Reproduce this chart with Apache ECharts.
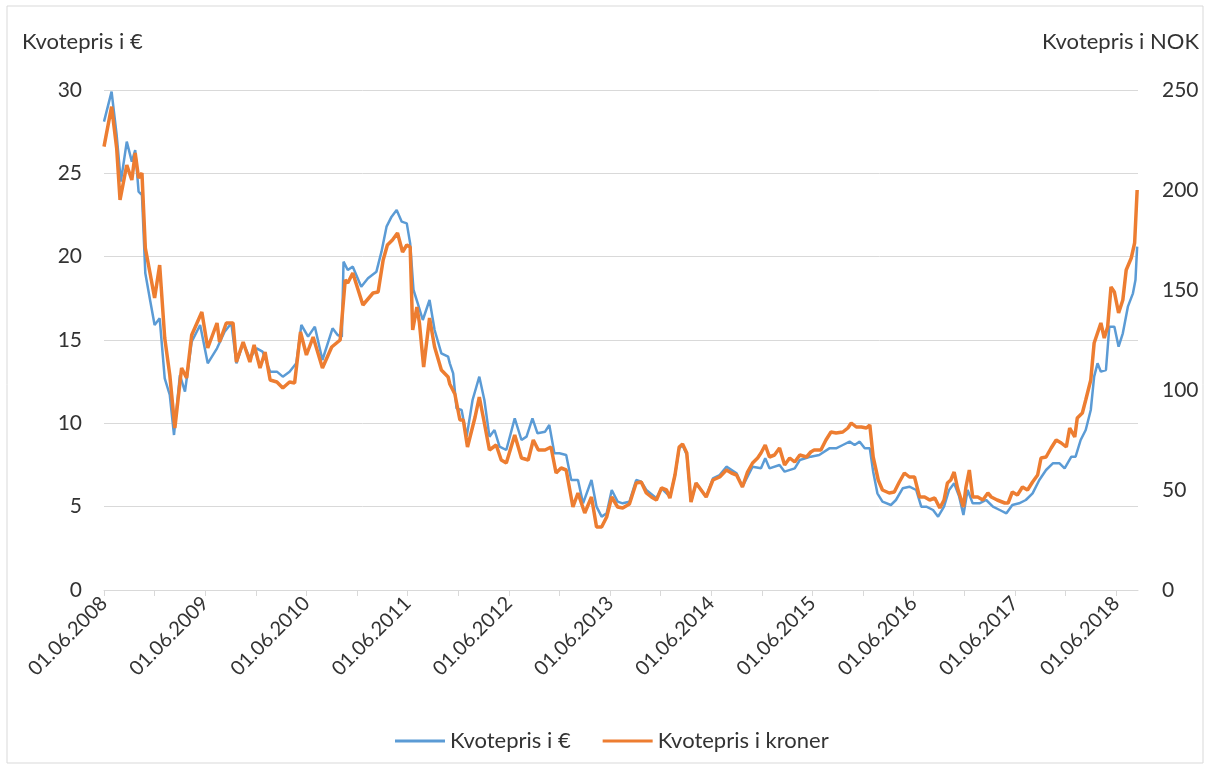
<!DOCTYPE html>
<html>
<head>
<meta charset="utf-8">
<title>Kvotepris</title>
<script src="https://cdn.jsdelivr.net/npm/echarts@6/dist/echarts.min.js"></script>
<style>
	html, body { margin: 0; padding: 0; background: #fff; }
	#chart { width: 1209px; height: 769px; }
</style>
</head>
<body>
<div id="chart"></div>
<script>
// x = months since 01.06.2008
var yearLabels = ['01.06.2008', '01.06.2009', '01.06.2010', '01.06.2011', '01.06.2012', '01.06.2013',
	'01.06.2014', '01.06.2015', '01.06.2016', '01.06.2017', '01.06.2018'];

// Kvotepris i € (venstre akse)
var euroMonths = [0.0, 0.9, 1.5, 2.0, 2.7, 3.3, 3.7, 4.1, 4.5, 4.9, 5.5, 6.0, 6.6, 7.2, 7.8, 8.3, 9.0, 9.6, 10.4, 11.4,
	12.3, 13.4, 14.3, 15.1, 15.7, 16.5, 17.3, 18.1, 18.8, 19.7, 20.5, 21.2, 22.0, 22.8, 23.4, 24.2, 25.0, 25.9, 27.1, 27.7,
	28.2, 28.4, 28.9, 29.5, 30.5, 31.3, 32.3, 32.9, 33.5, 34.1, 34.7, 35.3, 35.9, 36.3, 36.7, 37.2, 37.8, 38.6, 39.2, 40.0,
	40.8, 41.0, 41.4, 41.8, 42.4, 43.0, 43.7, 44.5, 45.1, 45.7, 46.3, 46.9, 47.7, 48.7, 49.5, 50.1, 50.8, 51.4, 52.3, 52.8,
	53.4, 54.0, 54.8, 55.4, 56.2, 56.8, 57.8, 58.4, 59.0, 59.6, 60.2, 60.9, 61.5, 62.3, 63.1, 63.7, 64.3, 65.5, 66.1, 67.1,
	67.7, 68.2, 68.6, 69.1, 69.6, 70.2, 71.4, 72.2, 73.0, 73.8, 75.0, 75.7, 76.9, 77.9, 78.4, 78.9, 80.1, 80.7, 81.9, 82.5,
	83.8, 84.8, 86.0, 86.8, 87.6, 88.4, 89.0, 89.6, 90.2, 90.8, 91.2, 91.7, 92.3, 93.3, 93.9, 94.7, 95.5, 96.3, 96.9, 97.5,
	98.3, 98.9, 99.6, 100.2, 100.8, 101.4, 101.9, 102.4, 103.0, 103.8, 104.6, 105.4, 106.2, 107.0, 107.7, 108.5, 109.3, 110.1, 110.9, 111.7,
	112.5, 113.3, 113.9, 114.7, 115.2, 115.8, 116.4, 117.0, 117.4, 117.8, 118.2, 118.8, 119.2, 119.8, 120.3, 120.8, 121.4, 122.0, 122.3, 122.5];
var euroValues = [28.1, 29.9, 27.3, 24.5, 26.9, 25.7, 26.4, 23.9, 23.7, 19.0, 17.3, 15.9, 16.3, 12.7, 11.7, 9.3, 12.9, 11.9, 14.9, 15.9,
	13.6, 14.5, 15.5, 16.0, 13.6, 14.8, 13.9, 14.5, 14.3, 13.1, 13.1, 12.8, 13.1, 13.6, 15.9, 15.2, 15.8, 13.8, 15.7, 15.3,
	15.2, 19.7, 19.2, 19.4, 18.2, 18.7, 19.1, 20.3, 21.8, 22.4, 22.8, 22.1, 22.0, 20.8, 18.0, 17.2, 16.2, 17.4, 15.6, 14.2,
	14.0, 13.6, 13.0, 10.9, 10.8, 9.2, 11.4, 12.8, 11.4, 9.2, 9.6, 8.6, 8.4, 10.3, 9.0, 9.2, 10.3, 9.4, 9.5, 9.9,
	8.2, 8.2, 8.1, 6.6, 6.6, 5.2, 6.6, 5.0, 4.4, 4.6, 6.0, 5.3, 5.2, 5.3, 6.6, 6.5, 6.0, 5.5, 6.1, 5.6,
	6.9, 8.5, 8.7, 8.1, 5.3, 6.4, 5.6, 6.7, 6.9, 7.4, 7.0, 6.2, 7.4, 7.3, 7.9, 7.3, 7.5, 7.1, 7.3, 7.8,
	8.0, 8.1, 8.5, 8.5, 8.7, 8.9, 8.7, 8.9, 8.5, 8.5, 7.1, 5.8, 5.3, 5.1, 5.4, 6.1, 6.2, 6.0, 5.0, 5.0,
	4.8, 4.4, 5.0, 6.0, 6.4, 5.6, 4.5, 6.0, 5.2, 5.2, 5.4, 5.0, 4.8, 4.6, 5.1, 5.2, 5.4, 5.8, 6.6, 7.2,
	7.6, 7.6, 7.3, 8.0, 8.0, 9.0, 9.6, 10.8, 12.8, 13.6, 13.1, 13.2, 15.8, 15.8, 14.6, 15.4, 17.0, 17.8, 18.6, 20.6];

// Kvotepris i kroner (høyre akse)
var nokMonths = [0.0, 0.9, 1.5, 1.9, 2.7, 3.3, 3.7, 4.1, 4.5, 4.9, 5.5, 6.0, 6.6, 7.2, 7.8, 8.4, 9.2, 9.8, 10.4, 11.6,
	12.3, 13.4, 13.7, 14.5, 15.3, 15.7, 16.5, 17.3, 17.8, 18.5, 19.1, 19.7, 20.5, 21.2, 22.0, 22.6, 23.3, 24.0, 24.8, 25.9,
	27.0, 28.0, 28.6, 28.9, 29.5, 30.7, 31.9, 32.5, 33.1, 33.6, 34.2, 34.8, 35.4, 35.9, 36.3, 36.6, 37.1, 37.4, 37.9, 38.6,
	39.2, 40.0, 40.8, 41.0, 41.6, 42.2, 42.6, 43.1, 44.0, 44.5, 45.1, 45.7, 46.5, 47.1, 47.7, 48.7, 49.5, 50.3, 50.9, 51.5,
	52.3, 53.0, 53.6, 54.2, 54.8, 55.6, 56.2, 57.0, 57.8, 58.4, 59.0, 59.6, 60.2, 60.9, 61.5, 62.3, 63.1, 63.7, 64.3, 64.9,
	65.5, 66.1, 66.7, 67.1, 67.7, 68.2, 68.6, 69.1, 69.6, 70.2, 70.8, 71.4, 72.2, 73.0, 73.8, 74.4, 75.0, 75.7, 76.3, 76.9,
	77.5, 77.9, 78.4, 78.9, 79.5, 80.1, 80.7, 81.3, 81.9, 82.5, 83.3, 83.8, 84.2, 85.0, 85.6, 86.2, 86.8, 87.6, 88.2, 88.6,
	89.2, 89.8, 90.4, 90.8, 91.2, 91.8, 92.3, 93.1, 93.7, 94.3, 94.9, 95.5, 96.1, 96.7, 97.3, 97.9, 98.5, 99.1, 99.6, 100.0,
	100.4, 100.8, 101.2, 101.9, 102.2, 102.6, 103.0, 103.6, 104.2, 104.8, 105.2, 105.9, 106.8, 107.2, 107.7, 108.3, 108.9, 109.5, 110.1, 110.7,
	111.1, 111.7, 112.3, 112.9, 113.5, 114.1, 114.5, 115.1, 115.4, 116.0, 116.4, 117.0, 117.4, 117.8, 118.2, 118.6, 119.0, 119.4, 119.8, 120.3,
	120.8, 121.2, 121.8, 122.2, 122.5];
var nokValues = [221.7, 241.7, 221, 195, 212.5, 205, 218.5, 206, 208.5, 171, 157.5, 146, 162.5, 126, 107.5, 81, 111, 106, 127.5, 139,
	121, 133.5, 124, 133.5, 133.5, 114, 124, 114, 122.5, 111, 119, 105, 104, 101, 104, 103.5, 129, 117.5, 126.5, 111,
	121.5, 125, 155, 153.5, 158.5, 142.5, 148.5, 149, 165, 172.5, 175, 178.5, 169, 172.5, 171.5, 130, 141.5, 133.5, 111.5, 136,
	121.5, 110, 106.5, 103, 98, 85, 85, 71.5, 86.5, 96.5, 83.5, 70, 72.5, 65, 63.5, 77.5, 66, 65, 75, 70,
	70, 71.5, 58.5, 61, 60, 41.5, 48.5, 38.5, 46.5, 31.5, 31.5, 36.5, 46.5, 41.5, 41, 43, 53.5, 54, 48.5, 46.5,
	45, 51, 50, 46, 57.5, 71.5, 73, 68.5, 44, 53.5, 50, 46.5, 55, 56.5, 60, 58.5, 57.5, 51.5, 59, 63.5,
	66, 68.5, 72.5, 66.5, 67.5, 71, 62.5, 66, 64, 67.5, 66.5, 69, 70, 70, 75, 79, 78.5, 79, 81, 83.5,
	81.5, 81.5, 81, 82.5, 66.5, 55, 50, 48.5, 49, 54, 58.5, 56.5, 56.5, 46.5, 46.5, 45, 46, 41, 45, 53.5,
	55, 59, 51, 41.5, 51.5, 60, 46.5, 46.5, 45, 48.5, 46.5, 45, 43.5, 43.5, 49, 47.5, 51.5, 50, 54, 57.5,
	66, 66.5, 71, 75, 73.5, 71.5, 81, 76.5, 86, 88.5, 95, 105, 123.5, 128.5, 133.5, 126, 131.5, 151.5, 149, 138.5,
	145, 160, 166, 173.5, 200];

var euroData = euroMonths.map(function (m, i) { return [m, euroValues[i]]; });
var nokData = nokMonths.map(function (m, i) { return [m, nokValues[i]]; });

var fontName = 'Lato';
var textColor = '#333333';
var lineGray = '#d9d9d9';

var myChart = echarts.init(document.getElementById('chart'));
var option = {
	animation: false,
	textStyle: { fontFamily: fontName },
	graphic: [{
		type: 'rect',
		shape: { x: 7, y: 6, width: 1196, height: 757 },
		style: { fill: 'none', stroke: lineGray, lineWidth: 1 },
		silent: true
	}],
	title: [{
		text: 'Kvotepris i €',
		left: 17,
		top: 26,
		textStyle: { fontSize: 22, fontWeight: 'normal', color: textColor, fontFamily: fontName }
	}, {
		text: 'Kvotepris i NOK',
		right: 5,
		top: 26,
		textStyle: { fontSize: 22, fontWeight: 'normal', color: textColor, fontFamily: fontName }
	}],
	legend: {
		bottom: 12,
		left: 390,
		itemWidth: 50,
		itemHeight: 3,
		itemGap: 32,
		icon: 'rect',
		textStyle: { fontSize: 22, color: textColor, fontFamily: fontName },
		data: ['Kvotepris i €', 'Kvotepris i kroner']
	},
	grid: {
		left: 104,
		right: 71,
		top: 90,
		bottom: 179,
		containLabel: false
	},
	xAxis: {
		type: 'value',
		min: 0,
		max: 122.6,
		interval: 6,
		axisLine: { show: true, lineStyle: { color: lineGray, width: 1 } },
		axisTick: { show: true, length: 6, lineStyle: { color: lineGray } },
		splitLine: { show: false },
		axisLabel: {
			rotate: 45,
			margin: 10,
			fontSize: 20,
			color: textColor,
			showMaxLabel: false,
			formatter: function (v) {
				if (v % 12 !== 0) return '';
				return yearLabels[v / 12] || '';
			}
		}
	},
	yAxis: [{
		type: 'value',
		min: 0,
		max: 30,
		interval: 5,
		axisLine: { show: false },
		axisTick: { show: false },
		splitLine: { lineStyle: { color: lineGray, width: 1 } },
		axisLabel: { fontSize: 21, color: textColor, margin: 22 }
	}, {
		type: 'value',
		min: 0,
		max: 250,
		interval: 50,
		axisLine: { show: false },
		axisTick: { show: false },
		splitLine: { show: false },
		axisLabel: { fontSize: 21, color: textColor, margin: 24 }
	}],
	series: [{
		name: 'Kvotepris i €',
		type: 'line',
		yAxisIndex: 0,
		symbol: 'none',
		data: euroData,
		itemStyle: { color: '#5B9BD5' },
		lineStyle: { color: '#5B9BD5', width: 2.5 },
		z: 2
	}, {
		name: 'Kvotepris i kroner',
		type: 'line',
		yAxisIndex: 1,
		symbol: 'none',
		data: nokData,
		itemStyle: { color: '#ED7D31' },
		lineStyle: { color: '#ED7D31', width: 3.5 },
		z: 3
	}]
};
myChart.setOption(option);
window.onresize = function () {
	myChart.resize();
};
</script>
</body>
</html>
